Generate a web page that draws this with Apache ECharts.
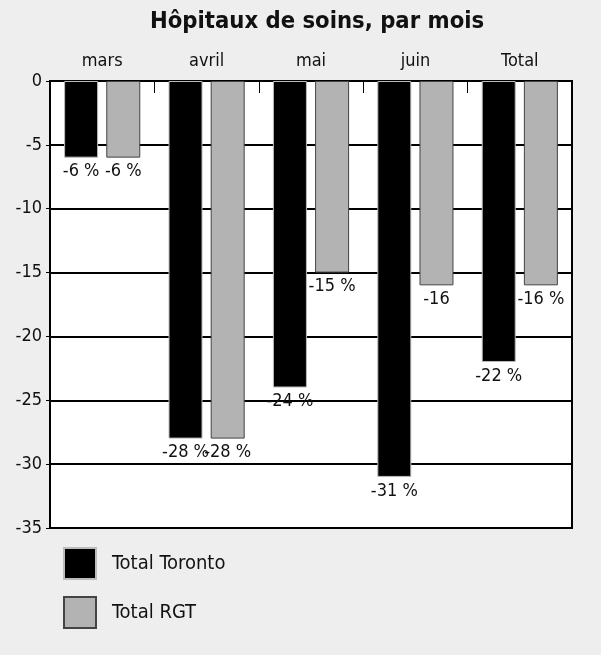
<!DOCTYPE html>
<html>
<head>
<meta charset="utf-8">
<script src="https://cdn.jsdelivr.net/npm/echarts@6/dist/echarts.min.js"></script>
<style>
  html, body { margin: 0; padding: 0; background: #eeeeee; }
  #chart { width: 601px; height: 655px; }
</style>
</head>
<body>
<div id="chart"></div>
<script>
// Données du graphique
const mois = ['mars', 'avril', 'mai', 'juin', 'Total'];
const toronto = [-6, -28, -24, -31, -22];
const rgt = [-6, -28, -15, -16, -16];
const torontoLabels = ['-6 %', '-28 %', '-24 %', '-31 %', '-22 %'];
const rgtLabels = ['-6 %', '-28 %', '-15 %', '-16', '-16 %'];

const police = '"DejaVu Sans Condensed", "Liberation Sans Narrow", sans-serif';

document.addEventListener('DOMContentLoaded', () => {
  echarts.init(document.querySelector('#chart')).setOption({
    backgroundColor: '#eeeeee',
    textStyle: { fontFamily: police },
    title: {
      text: 'Hôpitaux de soins, par mois',
      left: 145,
      top: 5,
      textStyle: { fontFamily: police, fontSize: 23.6, fontWeight: 'bold', color: '#111' }
    },
    legend: {
      orient: 'vertical',
      left: 58,
      top: 542,
      itemWidth: 32,
      itemHeight: 31,
      itemGap: 16,
      icon: 'rect',
      textStyle: { fontFamily: police, fontSize: 20, color: '#111', padding: [0, 0, 0, 11] },
      data: ['Total Toronto', 'Total RGT']
    },
    grid: {
      left: 50,
      right: 29,
      top: 81,
      bottom: 127,
      show: true,
      backgroundColor: '#ffffff',
      borderColor: '#000',
      borderWidth: 2
    },
    xAxis: {
      type: 'category',
      position: 'top',
      data: mois,
      axisLine: { show: true, lineStyle: { color: '#000', width: 2 } },
      axisTick: { show: true, inside: true, length: 12, lineStyle: { color: '#000', width: 1 } },
      axisLabel: { fontFamily: police, fontSize: 18, color: '#111', margin: 11 }
    },
    yAxis: {
      type: 'value',
      min: -35,
      max: 0,
      interval: 5,
      axisLine: { show: false },
      axisTick: { show: true, length: 4, lineStyle: { color: '#000' } },
      axisLabel: { fontFamily: police, fontSize: 18, color: '#111', margin: 8 },
      splitLine: { lineStyle: { color: '#000', width: 2 } }
    },
    series: [
      {
        name: 'Total Toronto',
        type: 'bar',
        data: toronto,
        barWidth: 34,
        barGap: '24%',
        itemStyle: { color: '#000', borderColor: '#bbb', borderWidth: 1 },
        label: {
          show: true,
          position: 'outside',
          distance: 5,
          fontFamily: police,
          fontSize: 18,
          color: '#111',
          formatter: p => torontoLabels[p.dataIndex]
        }
      },
      {
        name: 'Total RGT',
        type: 'bar',
        data: rgt,
        barWidth: 34,
        itemStyle: { color: '#b3b3b3', borderColor: '#444', borderWidth: 1 },
        label: {
          show: true,
          position: 'outside',
          distance: 5,
          fontFamily: police,
          fontSize: 18,
          color: '#111',
          formatter: p => rgtLabels[p.dataIndex]
        }
      }
    ]
  });
});
</script>
</body>
</html>
